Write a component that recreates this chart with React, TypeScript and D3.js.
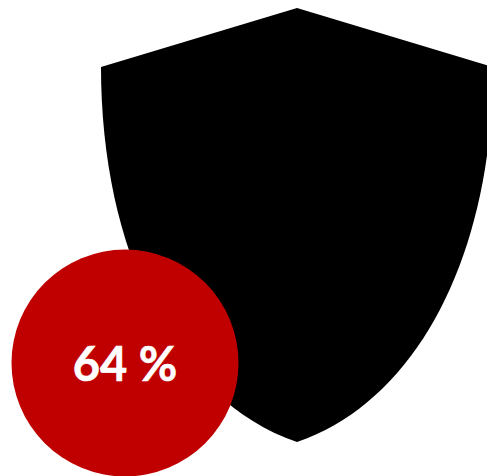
import React from "react";
import * as d3 from "d3";

const percent = [64];
const percentLabels = ["64 %"];
// Shield outline; it runs past the right edge of the frame
const apex = [297, 8];
const shoulderHalfWidth = [196];
const shoulderY = [67];
const tipY = [442];
const sideControl1 = [196, 250]; // half-width, y
const sideControl2 = [123, 400]; // half-width, y

export default function App() {
  const cx = apex[0];
  const p = d3.path();
  p.moveTo(cx - shoulderHalfWidth[0], shoulderY[0]);
  p.lineTo(apex[0], apex[1]);
  p.lineTo(cx + shoulderHalfWidth[0], shoulderY[0]);
  p.bezierCurveTo(cx + sideControl1[0], sideControl1[1], cx + sideControl2[0], sideControl2[1], cx, tipY[0]);
  p.bezierCurveTo(cx - sideControl2[0], sideControl2[1], cx - sideControl1[0], sideControl1[1], cx - shoulderHalfWidth[0], shoulderY[0]);
  p.closePath();
  return (
    <svg width={487} height={476} style={{ position: "absolute", left: 0, top: 0 }}>
      <path d={p.toString()} fill="#000" />
      <circle cx={125} cy={363} r={113.5} fill="#c00000" />
      <text x={125} y={381} textAnchor="middle" fill="#fff" stroke="#fff" strokeWidth={0.6} fontFamily="Lato" fontWeight={700} fontSize={47} data-value={percent[0]}>{percentLabels[0]}</text>
    </svg>
  );
}
